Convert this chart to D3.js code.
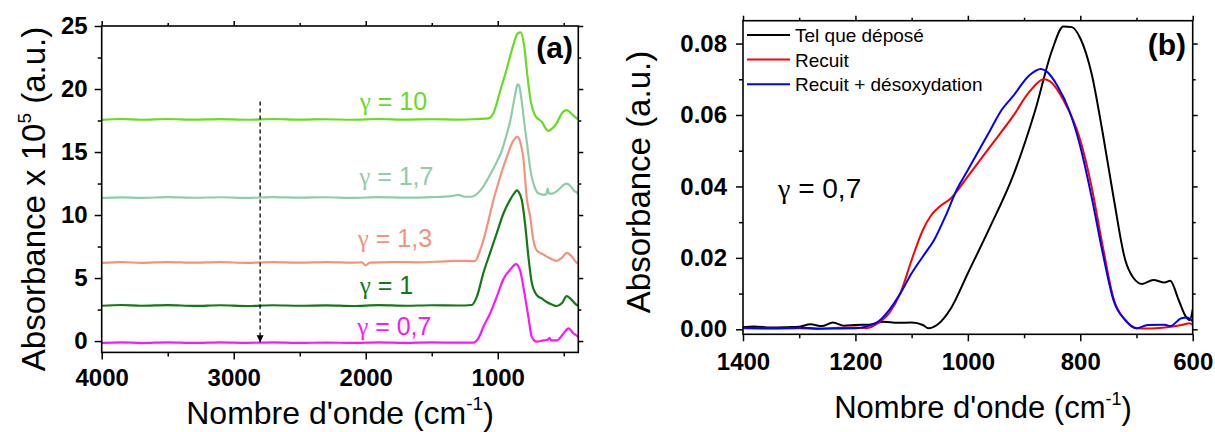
<!DOCTYPE html>
<html>
<head>
<meta charset="utf-8">
<script src="https://cdn.jsdelivr.net/npm/d3@7"></script>
<style>
  html, body { margin: 0; padding: 0; background: #fff; }
  svg { display: block; }
  text { font-family: "Liberation Sans", Arial, sans-serif; }
</style>
</head>
<body>
<svg id="chart" width="1215" height="432"></svg>
<script>
// ---------------- Panel (a) data: [wavenumber cm-1, absorbance x1e5] ----------------
const gamma10 = [[4000,17.55],[3850,17.62],[3700,17.56],[3500,17.62],[3300,17.57],[3100,17.61],[2900,17.56],[2700,17.62],[2500,17.57],[2300,17.6],[2100,17.56],[1900,17.62],[1700,17.57],[1500,17.6],[1300,17.57],[1150,17.62],[1071,17.67],[1033,18.07],[983,19.8],[932,21.6],[882,23.5],[851,24.4],[826,24.5],[801,23.5],[776,21.1],[750,19.0],[717,17.9],[667,17.4],[617,16.67],[585,16.9],[553,17.3],[515,18.07],[477,18.33],[439,18.0],[401,17.67],[390,17.6]];
const gamma17 = [[4000,11.35],[3850,11.4],[3700,11.36],[3500,11.42],[3300,11.37],[3100,11.41],[2900,11.36],[2700,11.42],[2500,11.38],[2300,11.41],[2100,11.36],[1900,11.42],[1700,11.38],[1500,11.42],[1350,11.5],[1300,11.6],[1250,11.45],[1200,11.45],[1150,11.75],[1114,12.2],[1058,13.2],[1008,14.2],[970,15.1],[930,16.5],[907,17.4],[880,18.9],[860,20.0],[851,20.37],[840,20.3],[818,19.0],[800,17.4],[780,15.8],[750,13.4],[717,12.1],[690,11.7],[650,11.6],[630,11.7],[622,12.1],[612,11.7],[590,11.7],[553,11.9],[530,12.1],[500,12.4],[477,12.5],[450,12.3],[420,11.9],[401,11.8],[390,11.6]];
const gamma13 = [[4000,6.2],[3850,6.26],[3700,6.21],[3500,6.27],[3300,6.22],[3100,6.26],[2900,6.21],[2700,6.27],[2500,6.22],[2300,6.26],[2100,6.22],[2030,6.25],[2000,6.0],[1970,6.22],[1800,6.27],[1600,6.25],[1400,6.33],[1300,6.36],[1200,6.35],[1172,6.35],[1134,7.2],[1096,8.5],[1058,10.1],[1033,11.2],[1008,12.1],[983,13.0],[932,14.6],[882,15.9],[851,16.2],[830,15.8],[806,14.5],[780,11.3],[755,9.9],[730,8.0],[705,7.2],[660,6.9],[629,6.7],[590,6.5],[553,6.37],[515,6.6],[477,7.0],[439,6.7],[401,6.2],[390,6.15]];
const gamma1 = [[4000,2.8],[3850,2.86],[3700,2.8],[3500,2.85],[3300,2.79],[3100,2.84],[2900,2.78],[2700,2.84],[2500,2.8],[2300,2.83],[2100,2.78],[1900,2.85],[1700,2.8],[1500,2.84],[1300,2.82],[1197,2.86],[1159,3.5],[1109,5.4],[1058,7.0],[1008,8.55],[958,10.1],[907,11.2],[870,11.8],[856,11.95],[840,11.8],[818,11.2],[793,9.3],[768,6.7],[742,4.6],[705,3.65],[670,3.4],[629,3.1],[590,2.9],[553,2.78],[515,3.0],[477,3.57],[439,3.25],[401,2.86],[390,2.8]];
const gamma07 = [[4000,-0.15],[3850,-0.1],[3700,-0.16],[3500,-0.1],[3300,-0.15],[3100,-0.1],[2900,-0.14],[2700,-0.1],[2500,-0.15],[2300,-0.12],[2100,-0.15],[1900,-0.1],[1700,-0.14],[1500,-0.11],[1300,-0.13],[1185,-0.13],[1147,0.21],[1109,1.13],[1058,2.2],[1008,3.5],[958,4.9],[907,5.65],[861,6.1],[831,5.6],[793,3.5],[768,1.9],[742,0.34],[705,-0.05],[654,0.05],[620,0.1],[609,0.25],[595,0.05],[553,0.05],[502,0.6],[464,1.0],[426,0.6],[401,0.42],[390,0.3]];

const seriesA = [
  { name: "10",  data: gamma10, color: "#66dd1e" },
  { name: "1,7", data: gamma17, color: "#8ecda8" },
  { name: "1,3", data: gamma13, color: "#f4937a" },
  { name: "1",   data: gamma1,  color: "#127a12" },
  { name: "0,7", data: gamma07, color: "#ff14ff" }
];
// label anchor: [wavenumber, value]
const labelPosA = [[2045,18.33],[2050,12.4],[2060,7.48],[2045,3.7],[2065,0.48]];
const arrowA = [[2800,19.0],[2800,-0.1]];

const xTicksA = [4000,3000,2000,1000];
const xMinorA = [3500,2500,1500,500];
const yTicksA = [0,5,10,15,20,25];
const yMinorA = [2.5,7.5,12.5,17.5,22.5];

// ---------------- Panel (b) data: [wavenumber cm-1, absorbance] ----------------
const telQueDepose = [[1400,0.0006],[1380,0.0008],[1350,0.0005],[1320,0.0006],[1300,0.0007],[1280,0.0014],[1260,0.0009],[1240,0.0019],[1220,0.001],[1200,0.0012],[1175,0.0013],[1150,0.0021],[1125,0.0018],[1100,0.0019],[1080,0.0012],[1070,0.0003],[1055,0.0012],[1030,0.0059],[1000,0.0157],[960,0.0288],[920,0.0428],[880,0.0614],[850,0.0782],[830,0.0848],[815,0.0846],[800,0.0815],[780,0.0717],[760,0.0549],[740,0.0362],[720,0.0194],[705,0.0143],[690,0.0127],[670,0.0138],[650,0.0131],[640,0.0136],[625,0.0082],[612,0.0035],[605,0.0026],[600,0.0056]];
const recuit = [[1400,0.0003],[1350,0.0002],[1300,0.0003],[1270,0.0001],[1230,0.0004],[1200,0.0005],[1180,0.0003],[1160,0.0017],[1140,0.0045],[1120,0.0101],[1100,0.0194],[1080,0.0278],[1065,0.032],[1050,0.0344],[1030,0.0367],[1000,0.0428],[960,0.0512],[920,0.0596],[890,0.0666],[865,0.0700],[850,0.0689],[830,0.0642],[800,0.053],[780,0.040],[760,0.0232],[740,0.0082],[720,0.0026],[700,0.0003],[680,0.0002],[650,0.0005],[620,0.0012],[605,0.0017],[600,0.0012]];
const recuitDesox = [[1400,0.0004],[1350,0.0003],[1300,0.0004],[1250,0.0002],[1200,0.0003],[1180,0.0008],[1160,0.0021],[1140,0.0054],[1120,0.0101],[1100,0.0157],[1080,0.0204],[1060,0.025],[1040,0.0316],[1020,0.039],[1000,0.0446],[960,0.0558],[940,0.0614],[920,0.0652],[890,0.0712],[870,0.0729],[860,0.0722],[840,0.068],[820,0.0614],[800,0.0512],[780,0.0372],[760,0.0213],[740,0.0077],[720,0.0026],[700,0.0003],[680,0.0012],[650,0.0013],[640,0.0009],[620,0.0031],[610,0.0033],[600,0.0022]];

const seriesB = [
  { name: "Tel que déposé",        data: telQueDepose, color: "#000000" },
  { name: "Recuit",                data: recuit,       color: "#ff0000" },
  { name: "Recuit + désoxydation", data: recuitDesox,  color: "#0000ff" }
];
const xTicksB = [1400,1200,1000,800,600];
const xMinorB = [1300,1100,900,700];
const yTicksB = [0,0.02,0.04,0.06,0.08];
const yMinorB = [0.01,0.03,0.05,0.07];

// ---------------- drawing ----------------
const svg = d3.select("#chart");
const defs = svg.append("defs");

function frame(g, x, y, opts) {
  const [x0, x1] = x.range();
  const [y0, y1] = y.range();
  g.append("g").attr("transform", `translate(0,${y0})`)
    .call(d3.axisBottom(x).tickValues(opts.xTicks).tickFormat(opts.xFmt).tickSize(7).tickPadding(opts.xPad).tickSizeOuter(0))
    .call(a => a.select(".domain").remove());
  g.append("g").attr("transform", `translate(0,${y0})`)
    .call(d3.axisBottom(x).tickValues(opts.xMinor).tickFormat("").tickSize(4).tickSizeOuter(0))
    .call(a => a.select(".domain").remove());
  g.append("g").attr("transform", `translate(0,${y1})`)
    .call(d3.axisTop(x).tickValues(opts.xTicks).tickFormat("").tickSize(5).tickSizeOuter(0))
    .call(a => a.select(".domain").remove());
  g.append("g").attr("transform", `translate(0,${y1})`)
    .call(d3.axisTop(x).tickValues(opts.xMinor).tickFormat("").tickSize(3).tickSizeOuter(0))
    .call(a => a.select(".domain").remove());
  g.append("g").attr("transform", `translate(${x0},0)`)
    .call(d3.axisLeft(y).tickValues(opts.yTicks).tickFormat(opts.yFmt).tickSize(7).tickPadding(opts.yPad).tickSizeOuter(0))
    .call(a => a.select(".domain").remove());
  g.append("g").attr("transform", `translate(${x0},0)`)
    .call(d3.axisLeft(y).tickValues(opts.yMinor).tickFormat("").tickSize(4).tickSizeOuter(0))
    .call(a => a.select(".domain").remove());
  g.append("g").attr("transform", `translate(${x1},0)`)
    .call(d3.axisRight(y).tickValues(opts.yTicks).tickFormat("").tickSize(5).tickSizeOuter(0))
    .call(a => a.select(".domain").remove());
  g.append("g").attr("transform", `translate(${x1},0)`)
    .call(d3.axisRight(y).tickValues(opts.yMinor).tickFormat("").tickSize(3).tickSizeOuter(0))
    .call(a => a.select(".domain").remove());

  g.selectAll(".tick line").attr("stroke", "#000").attr("stroke-width", 1.5);
  g.selectAll(".tick text").attr("fill", "#000")
    .style("font-family", "'Liberation Sans', Arial, sans-serif")
    .style("font-weight", "bold").style("font-size", "24px");

  g.append("rect")
    .attr("x", Math.min(x0, x1)).attr("y", Math.min(y0, y1))
    .attr("width", Math.abs(x1 - x0)).attr("height", Math.abs(y1 - y0))
    .attr("fill", "none").attr("stroke", "#000").attr("stroke-width", 1.6);
}

// ---- Panel (a)
const xA = d3.scaleLinear().domain([4000, 390]).range([101.7, 578.3]);
const yA = d3.scaleLinear().domain([-0.9, 25]).range([352.4, 26]);
const gA = svg.append("g");

defs.append("clipPath").attr("id", "clipA")
  .append("rect").attr("x", 101.7).attr("y", 26).attr("width", 476.6).attr("height", 326.4);

const lineA = d3.line().x(d => xA(d[0])).y(d => yA(d[1])).curve(d3.curveMonotoneX);
gA.append("g").attr("clip-path", "url(#clipA)")
  .selectAll("path").data(seriesA).join("path")
  .attr("d", s => lineA(s.data.slice().sort((a, b) => b[0] - a[0])))
  .attr("fill", "none").attr("stroke", s => s.color).attr("stroke-width", 2.2)
  .attr("stroke-linejoin", "round");

frame(gA, xA, yA, {
  xTicks: xTicksA, xMinor: xMinorA, xFmt: d3.format("d"), xPad: 10,
  yTicks: yTicksA, yMinor: yMinorA, yFmt: d3.format("d"), yPad: 7
});

seriesA.forEach((s, i) => {
  const t = gA.append("text")
    .attr("x", xA(labelPosA[i][0])).attr("y", yA(labelPosA[i][1]))
    .attr("fill", s.color).style("font-size", "25px");
  t.append("tspan").style("font-family", "'Liberation Serif', 'DejaVu Serif', serif").text("γ");
  t.append("tspan").text(" = " + s.name);
});

defs.append("marker").attr("id", "arrowHead")
  .attr("viewBox", "0 0 10 10").attr("refX", 10).attr("refY", 5)
  .attr("markerWidth", 7).attr("markerHeight", 8).attr("markerUnits", "userSpaceOnUse")
  .attr("orient", "auto")
  .append("path").attr("d", "M0,0 L10,5 L0,10 Z").attr("fill", "#000");
gA.append("line")
  .attr("x1", xA(arrowA[0][0])).attr("y1", yA(arrowA[0][1]))
  .attr("x2", xA(arrowA[1][0])).attr("y2", yA(arrowA[1][1]))
  .attr("stroke", "#000").attr("stroke-width", 1.3).attr("stroke-dasharray", "4,3")
  .attr("marker-end", "url(#arrowHead)");

gA.append("text").attr("x", 573).attr("y", 58).attr("text-anchor", "end")
  .style("font-weight", "bold").style("font-size", "30px").text("(a)");

const xtA = gA.append("text").attr("x", 340).attr("y", 424).attr("text-anchor", "middle")
  .style("font-size", "32px");
xtA.append("tspan").text("Nombre d'onde (cm");
xtA.append("tspan").attr("dy", "-0.75em").style("font-size", "19px").text("-1");
xtA.append("tspan").attr("dy", "0.47em").text(")");

const ytA = gA.append("text").attr("transform", "translate(45,199) rotate(-90)")
  .attr("text-anchor", "middle").style("font-size", "33px");
ytA.append("tspan").text("Absorbance x 10");
ytA.append("tspan").attr("dy", "-0.75em").style("font-size", "19px").text("5");
ytA.append("tspan").attr("dy", "0.43em").text(" (a.u.)");

// ---- Panel (b)
const xB = d3.scaleLinear().domain([1400, 600]).range([743, 1192.7]);
const yB = d3.scaleLinear().domain([-0.0014, 0.0864]).range([334.3, 20.7]);
const gB = svg.append("g");
defs.append("clipPath").attr("id", "clipB")
  .append("rect").attr("x", 743).attr("y", 20.7).attr("width", 449.7).attr("height", 313.6);

const lineB = d3.line().x(d => xB(d[0])).y(d => yB(d[1])).curve(d3.curveMonotoneX);
gB.append("g").attr("clip-path", "url(#clipB)")
  .selectAll("path").data(seriesB).join("path")
  .attr("d", s => lineB(s.data.slice().sort((a, b) => b[0] - a[0])))
  .attr("fill", "none").attr("stroke", s => s.color).attr("stroke-width", 2)
  .attr("stroke-linejoin", "round");

frame(gB, xB, yB, {
  xTicks: xTicksB, xMinor: xMinorB, xFmt: d3.format("d"), xPad: 12,
  yTicks: yTicksB, yMinor: yMinorB, yFmt: d3.format(".2f"), yPad: 9
});

const leg = gB.append("g");
seriesB.forEach((s, i) => {
  const yy = 35 + i * 24.6;
  leg.append("line").attr("x1", 747).attr("x2", 790).attr("y1", yy).attr("y2", yy)
    .attr("stroke", s.color).attr("stroke-width", 2);
  leg.append("text").attr("x", 795).attr("y", yy + 7).style("font-size", "19px").text(s.name);
});

const gB07 = gB.append("text").attr("x", 778).attr("y", 198).style("font-size", "28px");
gB07.append("tspan").style("font-family", "'Liberation Serif', 'DejaVu Serif', serif").text("γ");
gB07.append("tspan").text(" = 0,7");

gB.append("text").attr("x", 1186).attr("y", 55).attr("text-anchor", "end")
  .style("font-weight", "bold").style("font-size", "30px").text("(b)");

const xtB = gB.append("text").attr("x", 983).attr("y", 418).attr("text-anchor", "middle")
  .style("font-size", "31px");
xtB.append("tspan").text("Nombre d'onde (cm");
xtB.append("tspan").attr("dy", "-0.75em").style("font-size", "18px").text("-1");
xtB.append("tspan").attr("dy", "0.47em").text(")");

gB.append("text").attr("transform", "translate(650,182) rotate(-90)")
  .attr("text-anchor", "middle").style("font-size", "33px").text("Absorbance (a.u.)");
</script>
</body>
</html>
